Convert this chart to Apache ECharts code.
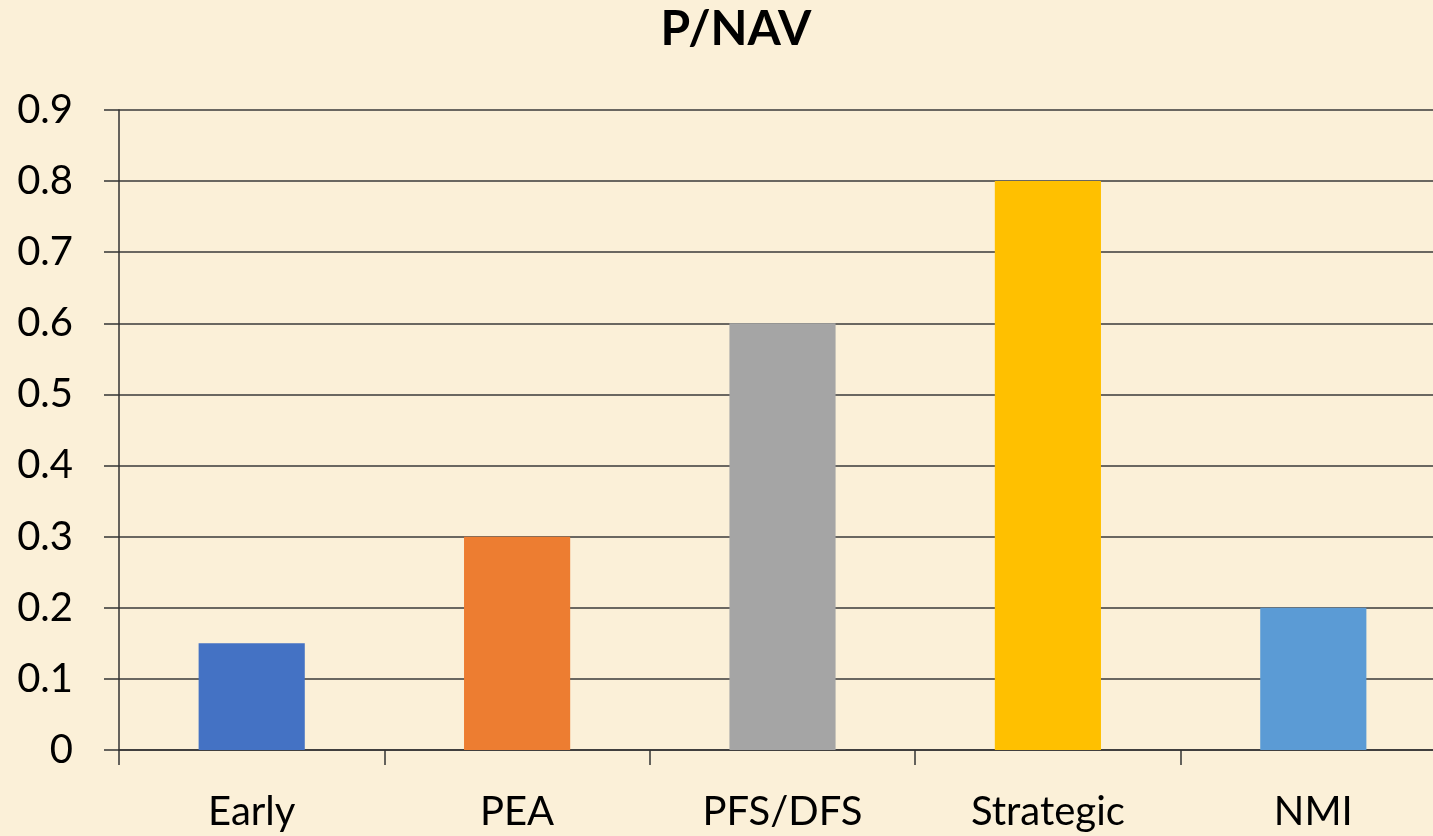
<!DOCTYPE html>
<html>
<head>
<meta charset="utf-8">
<script src="https://cdn.jsdelivr.net/npm/echarts@6/dist/echarts.min.js"></script>
<style>
  html, body { margin: 0; padding: 0; background: #fbf0d8; overflow: hidden; }
  #main { width: 1446px; height: 836px; }
</style>
</head>
<body>
<div id="main"></div>
<script>
// data
var categories = ['Early', 'PEA', 'PFS/DFS', 'Strategic', 'NMI'];
var values = [0.15, 0.3, 0.6, 0.8, 0.2];
var barColors = ['#4472C4', '#ED7D31', '#A5A5A5', '#FFC000', '#5B9BD5'];
var yTickLabels = ['0', '0.1', '0.2', '0.3', '0.4', '0.5', '0.6', '0.7', '0.8', '0.9'];

// plot runs a little past the right edge of the window, like the original
var chart = echarts.init(document.getElementById('main'), null, { renderer: 'canvas' });

var option = {
  backgroundColor: '#fbf0d8',
  animation: false,
  title: {
    text: 'P/NAV',
    left: 731,
    top: 1,
    textAlign: 'center',
    textStyle: { fontFamily: 'Lato', fontWeight: 'bold', fontSize: 48, color: '#000' }
  },
  grid: { left: 119, right: 0, top: 110, bottom: 86, containLabel: false },
  xAxis: {
    type: 'category',
    data: categories,
    axisLine: { lineStyle: { color: '#333', width: 1.5 } },
    axisTick: { show: true, length: 15, lineStyle: { color: '#333', width: 1.5 } },
    axisLabel: { margin: 42, fontFamily: 'Lato', fontSize: 40, color: '#000' }
  },
  yAxis: {
    type: 'value',
    min: 0,
    max: 0.9,
    interval: 0.1,
    axisLine: { show: true, lineStyle: { color: '#333', width: 1.5 } },
    axisTick: { show: true, length: 15, lineStyle: { color: '#333', width: 1.5 } },
    splitLine: { show: true, lineStyle: { color: '#3a3a3a', width: 1.5 } },
    axisLabel: {
      margin: 46,
      fontFamily: 'Lato',
      fontSize: 40,
      color: '#000',
      formatter: function (v) {
        var i = Math.round(v * 10);
        return yTickLabels[i];
      }
    }
  },
  series: [{
    type: 'bar',
    barWidth: '40%',
    data: values.map(function (v, i) {
      return { value: v, itemStyle: { color: barColors[i] } };
    })
  }]
};

chart.setOption(option);
</script>
</body>
</html>
